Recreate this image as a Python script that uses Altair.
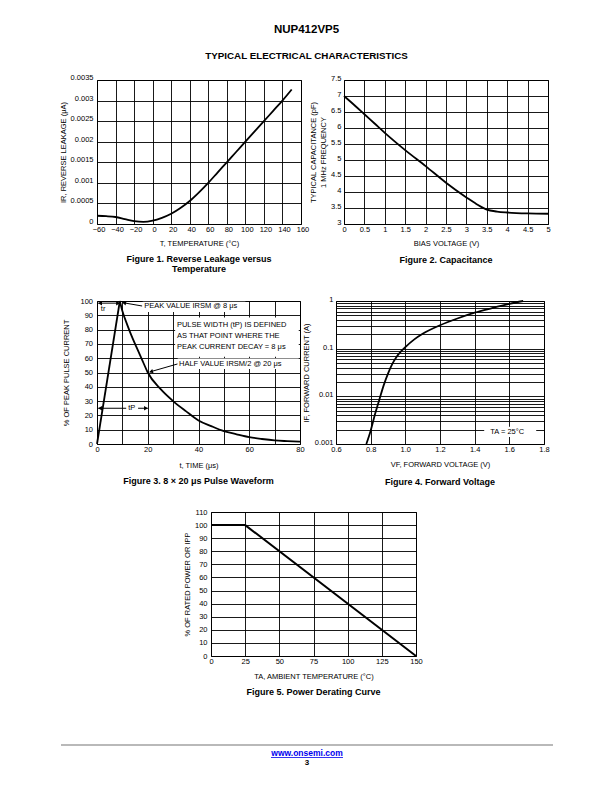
import altair as alt
import pandas as pd

FONT = "Liberation Sans"
BLACK = "black"

# ---------------- page texts ----------------
page_title = "NUP412VP5"
page_subtitle = "TYPICAL ELECTRICAL CHARACTERISTICS"
footer_link = ["www.onsemi.com"]
footer_page = ["3"]

# ---------------- Figure 1 ----------------
fig1_temp = [-60, -50, -40, -30, -20, -10, 0, 10, 20, 30, 40, 50, 60, 70, 80, 90,
             100, 110, 120, 130, 140, 150]
fig1_leak = [0.0002, 0.00019, 0.00017, 0.00012, 0.00007, 0.00005, 0.00008, 0.00015,
             0.00025, 0.00039, 0.00056, 0.00077, 0.001, 0.00125, 0.0015, 0.00175,
             0.002, 0.00225, 0.0025, 0.00275, 0.003, 0.00327]
fig1_xticks = [-60, -40, -20, 0, 20, 40, 60, 80, 100, 120, 140, 160]
fig1_yticks = [0, 0.0005, 0.001, 0.0015, 0.002, 0.0025, 0.003, 0.0035]
fig1_caption = ["Figure 1. Reverse Leakage versus", "Temperature"]

# ---------------- Figure 2 ----------------
fig2_bias = [0, 0.25, 0.5, 0.75, 1, 1.5, 2, 2.5, 3, 3.25, 3.5, 3.75, 4, 4.5, 5]
fig2_cap = [7.0, 6.72, 6.43, 6.14, 5.85, 5.31, 4.81, 4.29, 3.83, 3.62, 3.45, 3.39,
            3.36, 3.33, 3.32]
fig2_xticks = [0, 0.5, 1, 1.5, 2, 2.5, 3, 3.5, 4, 4.5, 5]
fig2_yticks = [3, 3.5, 4, 4.5, 5, 5.5, 6, 6.5, 7, 7.5]
fig2_caption = "Figure 2. Capacitance"

# ---------------- Figure 3 ----------------
fig3_rise_t = [0, 9]
fig3_rise_v = [0, 100]
fig3_decay_t = [9, 10, 12, 14, 16, 18, 20, 25, 30, 35, 40, 45, 50, 55, 60, 65, 70, 75, 80]
fig3_decay_v = [100, 93, 83, 74, 66, 58, 50, 38.5, 30, 23, 16.5, 12.5, 9, 6.8, 4.8, 3.5,
                2.5, 2, 1.6]
fig3_xticks = [0, 10, 20, 30, 40, 50, 60, 70, 80]
fig3_yticks = [0, 10, 20, 30, 40, 50, 60, 70, 80, 90, 100]
fig3_notes = ["tr", "PEAK VALUE IRSM @ 8 μs", "PULSE WIDTH (tP) IS DEFINED",
              "AS THAT POINT WHERE THE", "PEAK CURRENT DECAY = 8 μs",
              "HALF VALUE IRSM/2 @ 20 μs", "tP"]
fig3_note_t = [1.5, 18.6, 31.5, 31.5, 31.5, 32.3, 12.3]
fig3_note_v = [94.5, 96.5, 83.2, 75.5, 67.8, 56, 25]
# white boxes behind the notes (t from, t to, v from, v to)
fig3_box_t1 = [18.0, 30.8, 31.8, 11.5]
fig3_box_t2 = [58.5, 79.5, 79.5, 16.2]
fig3_box_v1 = [92.3, 61.0, 52.5, 22.0]
fig3_box_v2 = [99.4, 88.5, 59.8, 28.0]
# dimension / leader lines
fig3_line_t1 = [0.5, 10.3, 20.8, 0.5]
fig3_line_t2 = [9.0, 17.8, 31.8, 20.0]
fig3_line_v1 = [98.5, 98.8, 50.4, 25]
fig3_line_v2 = [98.5, 96.5, 56.0, 25]
# arrow heads
fig3_head_t = [1.2, 8.3, 1.2, 19.3, 10.7, 21.3]
fig3_head_v = [98.5, 98.5, 25, 25, 98.7, 50.6]
fig3_head_angle = [180, 0, 180, 0, 193, 164]
fig3_caption = "Figure 3. 8 × 20 μs Pulse Waveform"

# ---------------- Figure 4 ----------------
fig4_vf = [0.775, 0.80, 0.825, 0.85, 0.875, 0.90, 0.925, 0.95, 0.975, 1.0, 1.05, 1.1,
           1.2, 1.3, 1.4, 1.5, 1.6, 1.68]
fig4_if = [0.001, 0.0019, 0.0042, 0.0085, 0.017, 0.03, 0.048, 0.068, 0.088, 0.108,
           0.155, 0.205, 0.31, 0.43, 0.57, 0.71, 0.87, 1.0]
fig4_xticks = [0.6, 0.8, 1.0, 1.2, 1.4, 1.6, 1.8]
fig4_yticks = [0.001, 0.002, 0.003, 0.004, 0.005, 0.006, 0.007, 0.008, 0.009,
               0.01, 0.02, 0.03, 0.04, 0.05, 0.06, 0.07, 0.08, 0.09,
               0.1, 0.2, 0.3, 0.4, 0.5, 0.6, 0.7, 0.8, 0.9, 1]
fig4_note = ["TA = 25°C"]
fig4_note_vf = [1.49]
fig4_note_if = [0.0018]
fig4_box_vf = [1.455, 1.755]
fig4_box_if = [0.0014, 0.0023]
fig4_caption = "Figure 4. Forward Voltage"

# ---------------- Figure 5 ----------------
fig5_temp = [0, 25, 150]
fig5_power = [100, 100, 0]
fig5_xticks = [0, 25, 50, 75, 100, 125, 150]
fig5_yticks = [0, 10, 20, 30, 40, 50, 60, 70, 80, 90, 100, 110]
fig5_caption = "Figure 5. Power Derating Curve"


def caption(text, offset=8):
    return alt.TitleParams(text=text, orient="bottom", anchor="middle", frame="group",
                           fontSize=9, fontWeight="bold", font=FONT, color=BLACK,
                           offset=offset, lineHeight=10)


def xaxis(values, title, fmt="~g", tpad=7, expr=None, loff=0):
    kw = dict(values=values, title=title, format=fmt, labelPadding=1.5, titlePadding=tpad,
              labelOffset=loff)
    if expr:
        kw["labelExpr"] = expr
    return alt.Axis(**kw)


def yaxis(values, title, fmt="~g", lpad=3.5, tpad=3, expr=None, loff=0):
    kw = dict(values=values, title=title, format=fmt, labelPadding=lpad, titlePadding=tpad,
              titleLineHeight=10, labelOffset=loff)
    if expr:
        kw["labelExpr"] = expr
    return alt.Axis(**kw)


# ---------------- Figure 1 chart ----------------
df1 = pd.DataFrame({"T": fig1_temp, "IR": fig1_leak})
fig1 = alt.Chart(df1).mark_line(color=BLACK, strokeWidth=1.8, interpolate="monotone").encode(
    x=alt.X("T:Q", scale=alt.Scale(domain=[-60, 160], nice=False, zero=False),
            axis=xaxis(fig1_xticks, "T, TEMPERATURE (°C)", fmt="d", tpad=6.5, loff=1.5)),
    y=alt.Y("IR:Q", scale=alt.Scale(domain=[0, 0.0035], nice=False),
            axis=yaxis(fig1_yticks, "IR, REVERSE LEAKAGE (μA)", lpad=4, tpad=3, loff=-2.5)),
).properties(width=204, height=144, title=caption(fig1_caption, 8))

# ---------------- Figure 2 chart ----------------
df2 = pd.DataFrame({"V": fig2_bias, "C": fig2_cap})
fig2 = alt.Chart(df2).mark_line(color=BLACK, strokeWidth=1.8, interpolate="monotone").encode(
    x=alt.X("V:Q", scale=alt.Scale(domain=[0, 5], nice=False),
            axis=xaxis(fig2_xticks, "BIAS VOLTAGE (V)", tpad=6.5)),
    y=alt.Y("C:Q", scale=alt.Scale(domain=[3, 7.5], nice=False, zero=False),
            axis=yaxis(fig2_yticks, ["TYPICAL CAPACITANCE (pF)", "1 MHz FREQUENCY"],
                       lpad=3, tpad=3, loff=-2)),
).properties(width=204, height=144, title=caption(fig2_caption, 9))

# ---------------- Figure 3 chart ----------------
x3 = alt.X("t:Q", scale=alt.Scale(domain=[0, 80], nice=False),
           axis=xaxis(fig3_xticks, "t, TIME (μs)", fmt="d", tpad=8.5,
                      expr="datum.value % 20 == 0 ? datum.label : ''"))
y3 = alt.Y("v:Q", scale=alt.Scale(domain=[0, 100], nice=False),
           axis=yaxis(fig3_yticks, "% OF PEAK PULSE CURRENT", fmt="d", lpad=4.5, tpad=9))

lines3 = alt.Chart(pd.DataFrame({"t": fig3_line_t1, "t2": fig3_line_t2,
                                 "v": fig3_line_v1, "v2": fig3_line_v2})).mark_rule(
    color=BLACK, strokeWidth=1).encode(x=x3, x2="t2:Q", y=y3, y2="v2:Q")
boxes3 = alt.Chart(pd.DataFrame({"t": fig3_box_t1, "t2": fig3_box_t2,
                                 "v": fig3_box_v1, "v2": fig3_box_v2})).mark_rect(
    color="white", opacity=1).encode(x=x3, x2="t2:Q", y=y3, y2="v2:Q")
rise3 = alt.Chart(pd.DataFrame({"t": fig3_rise_t, "v": fig3_rise_v})).mark_line(
    color=BLACK, strokeWidth=1.8).encode(x=x3, y=y3)
decay3 = alt.Chart(pd.DataFrame({"t": fig3_decay_t, "v": fig3_decay_v})).mark_line(
    color=BLACK, strokeWidth=1.8, interpolate="monotone").encode(x=x3, y=y3)
notes3 = alt.Chart(pd.DataFrame({"t": fig3_note_t, "v": fig3_note_v, "note": fig3_notes})).mark_text(
    align="left", baseline="middle", font=FONT, fontSize=7.5, color=BLACK).encode(
    x=x3, y=y3, text="note:N")
heads3 = alt.Chart(pd.DataFrame({"t": fig3_head_t, "v": fig3_head_v, "ang": fig3_head_angle})).mark_point(
    shape="triangle-right", filled=True, size=20, color=BLACK, opacity=1).encode(
    x=x3, y=y3, angle=alt.Angle("ang:Q", scale=None))
fig3 = alt.layer(lines3, boxes3, rise3, decay3, notes3, heads3).properties(
    width=203, height=143, title=caption(fig3_caption, 8))

# ---------------- Figure 4 chart ----------------
x4 = alt.X("vf:Q", scale=alt.Scale(domain=[0.6, 1.8], nice=False, zero=False),
           axis=xaxis(fig4_xticks, "VF, FORWARD VOLTAGE (V)", fmt=".1f", tpad=7))
y4 = alt.Y("ia:Q", scale=alt.Scale(type="log", domain=[0.001, 1], nice=False),
           axis=yaxis(fig4_yticks, "IF, FORWARD CURRENT (A)", lpad=3, tpad=4, loff=-1.5,
                      expr="(datum.value == 0.001 || datum.value == 0.01 || datum.value == 0.1 || datum.value == 1) ? format(datum.value, '~g') : ''"))
box4 = alt.Chart(pd.DataFrame({"vf": [fig4_box_vf[0]], "vf2": [fig4_box_vf[1]],
                               "ia": [fig4_box_if[0]], "ia2": [fig4_box_if[1]]})).mark_rect(
    color="white", opacity=1).encode(x=x4, x2="vf2:Q", y=y4, y2="ia2:Q")
curve4 = alt.Chart(pd.DataFrame({"vf": fig4_vf, "ia": fig4_if})).mark_line(
    color=BLACK, strokeWidth=1.8, interpolate="monotone").encode(x=x4, y=y4)
note4 = alt.Chart(pd.DataFrame({"vf": fig4_note_vf, "ia": fig4_note_if, "note": fig4_note})).mark_text(
    align="left", baseline="middle", font=FONT, fontSize=7.5, color=BLACK).encode(
    x=x4, y=y4, text="note:N")
fig4 = alt.layer(box4, curve4, note4).properties(
    width=208, height=143, title=caption(fig4_caption, 10))

# ---------------- Figure 5 chart ----------------
df5 = pd.DataFrame({"ta": fig5_temp, "p": fig5_power})
fig5 = alt.Chart(df5).mark_line(color=BLACK, strokeWidth=2).encode(
    x=alt.X("ta:Q", scale=alt.Scale(domain=[0, 150], nice=False),
            axis=xaxis(fig5_xticks, "TA, AMBIENT TEMPERATURE (°C)", fmt="d", tpad=7)),
    y=alt.Y("p:Q", scale=alt.Scale(domain=[0, 110], nice=False),
            axis=yaxis(fig5_yticks, "% OF RATED POWER OR IPP", fmt="d", lpad=4, tpad=2.5)),
).properties(width=205, height=144, title=caption(fig5_caption, 8))

# ---------------- spacer and footer ----------------
spacer = alt.Chart(pd.DataFrame({"s": [0]})).mark_point(opacity=0, size=1).encode(
    x=alt.value(0), y=alt.value(0)).properties(
    width=1, height=144, view=alt.ViewBackground(stroke="transparent"))

foot_rule = alt.Chart(pd.DataFrame({"s": [0]})).mark_rule(color="#b9b9b9", strokeWidth=2).encode(
    x=alt.value(-36), x2=alt.value(456), y=alt.value(27))
foot_link = alt.Chart(pd.DataFrame({"label": footer_link})).mark_text(
    font=FONT, fontSize=8.5, fontWeight="bold", color="#0000ee", align="center",
    baseline="middle").encode(x=alt.value(210), y=alt.value(35), text="label:N")
foot_under = alt.Chart(pd.DataFrame({"s": [0]})).mark_rule(color="#0000ee", strokeWidth=0.8).encode(
    x=alt.value(174), x2=alt.value(246), y=alt.value(39.5))
foot_page = alt.Chart(pd.DataFrame({"label": footer_page})).mark_text(
    font=FONT, fontSize=8, fontWeight="bold", color=BLACK, align="center",
    baseline="middle").encode(x=alt.value(210), y=alt.value(45), text="label:N")
footer = alt.layer(foot_rule, foot_link, foot_under, foot_page).properties(
    width=456, height=50, view=alt.ViewBackground(stroke="transparent"))

# ---------------- page layout ----------------
row1 = alt.hconcat(fig1, fig2, spacing=43, bounds="flush")
row2 = alt.hconcat(fig3, fig4, spacing=36, bounds="flush")
row3 = alt.hconcat(spacer, fig5, spacing=113, bounds="flush")

chart = alt.vconcat(
    row1, row2, row3, footer, spacing=20,
    title=alt.TitleParams(text=page_title, subtitle=page_subtitle, anchor="middle",
                          font=FONT, fontSize=11.5, fontWeight="bold", color=BLACK,
                          subtitleFont=FONT, subtitleFontSize=9.8,
                          subtitleFontWeight="bold", subtitleColor=BLACK,
                          subtitlePadding=16, offset=12),
).properties(
    padding={"left": 50, "top": 15, "right": 5, "bottom": 5}
).configure(font=FONT).configure_axis(
    labelFont=FONT, titleFont=FONT, labelFontSize=7.5, titleFontSize=7.5,
    titleFontWeight="normal", labelColor=BLACK, titleColor=BLACK,
    domain=False, ticks=False, tickSize=0, grid=True, gridColor=BLACK,
    gridOpacity=1, gridWidth=0.9, labelFlush=False, labelOverlap=False,
).configure_view(stroke=BLACK, strokeWidth=1)

chart.save("out.html", embed_options={"renderer": "svg", "actions": False})
